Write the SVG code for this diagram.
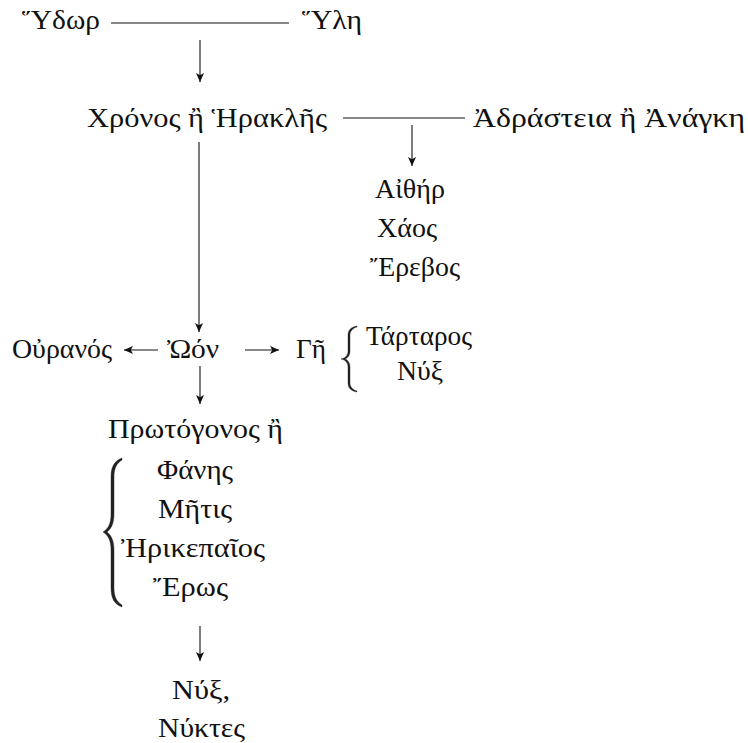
<svg xmlns="http://www.w3.org/2000/svg" width="748" height="743" viewBox="0 0 748 743">
<style>
text{font-family:"Liberation Serif","DejaVu Serif",serif;font-size:27px;fill:#111}
.ln{stroke:#111;stroke-width:1.1;fill:none}
.br{stroke:#222;stroke-width:0.4;fill:#222}
</style>
<defs>
<marker id="ah" viewBox="0 0 10 10" refX="10" refY="5" markerWidth="9" markerHeight="9" markerUnits="userSpaceOnUse" orient="auto">
<path d="M0,0.5 L10,5 L0,9.5 L2.5,5 z" fill="#111"/>
</marker>
</defs>
<g id="connectors">
<line class="ln" x1="111" y1="23" x2="289" y2="23"/>
<line class="ln" x1="200" y1="40" x2="200" y2="82" marker-end="url(#ah)"/>
<line class="ln" x1="343" y1="118" x2="465" y2="118"/>
<line class="ln" x1="412" y1="125" x2="412" y2="166" marker-end="url(#ah)"/>
<line class="ln" x1="199" y1="142" x2="199" y2="332" marker-end="url(#ah)"/>
<line class="ln" x1="158" y1="350" x2="124" y2="350" marker-end="url(#ah)"/>
<line class="ln" x1="245" y1="350" x2="279" y2="350" marker-end="url(#ah)"/>
<line class="ln" x1="200" y1="366" x2="200" y2="404" marker-end="url(#ah)"/>
<line class="ln" x1="200" y1="626" x2="200" y2="661" marker-end="url(#ah)"/>
</g>
<g id="n-hydor"><text x="22" y="29" textLength="78" lengthAdjust="spacingAndGlyphs">Ὕδωρ</text></g>
<g id="n-hyle"><text x="302" y="29" textLength="60" lengthAdjust="spacingAndGlyphs">Ὕλη</text></g>
<g id="n-chronos"><text x="87" y="127" textLength="240" lengthAdjust="spacingAndGlyphs">Χρόνος ἢ Ἡρακλῆς</text></g>
<g id="n-adrasteia"><text x="473" y="127" textLength="272" lengthAdjust="spacingAndGlyphs">Ἀδράστεια ἢ Ἀνάγκη</text></g>
<g id="n-aither">
<text x="375" y="198" textLength="70" lengthAdjust="spacingAndGlyphs">Αἰθήρ</text>
<text x="377" y="237" textLength="60" lengthAdjust="spacingAndGlyphs">Χάος</text>
<text x="370" y="276" textLength="90" lengthAdjust="spacingAndGlyphs">Ἔρεβος</text>
</g>
<g id="n-ouranos"><text x="12" y="358" textLength="100" lengthAdjust="spacingAndGlyphs">Οὐρανός</text></g>
<g id="n-oon"><text x="167" y="358" textLength="52" lengthAdjust="spacingAndGlyphs">Ὠόν</text></g>
<g id="n-ge">
<text x="296" y="358" textLength="30" lengthAdjust="spacingAndGlyphs">Γῆ</text>
<path class="br" d="M357,326 C351,327 348,330 348,335 L348,351 C348,355 346,358 341,359 C346,360 348,363 348,367 L348,383 C348,388 351,391 357,392 L357,391 C353,390 350,387 350,383 L350,367 C350,363 348,360 345,359 C348,358 350,355 350,351 L350,335 C350,331 353,328 357,327 z"/>
<text x="366" y="345" textLength="106" lengthAdjust="spacingAndGlyphs">Τάρταρος</text>
<text x="397" y="380" textLength="46" lengthAdjust="spacingAndGlyphs">Νύξ</text>
</g>
<g id="n-protogonos">
<text x="108" y="438" textLength="175" lengthAdjust="spacingAndGlyphs">Πρωτόγονος ἢ</text>
<path class="br" d="M122,458 C114,461 111,467 111,477 L111,514 C111,524 108,529 103,532 C108,535 111,540 111,550 L111,588 C111,598 114,604 122,607 L122,605 C117,602 114,597 114,588 L114,550 C114,540 111,535 107,532 C111,529 114,524 114,514 L114,477 C114,468 117,463 122,460 z"/>
<text x="157" y="479" textLength="76" lengthAdjust="spacingAndGlyphs">Φάνης</text>
<text x="158" y="518" textLength="74" lengthAdjust="spacingAndGlyphs">Μῆτις</text>
<text x="121" y="557" textLength="144" lengthAdjust="spacingAndGlyphs">Ἠρικεπαῖος</text>
<text x="153" y="596" textLength="75" lengthAdjust="spacingAndGlyphs">Ἔρως</text>
</g>
<g id="n-nyx">
<text x="172" y="699" textLength="58" lengthAdjust="spacingAndGlyphs">Νύξ,</text>
<text x="158" y="737" textLength="87" lengthAdjust="spacingAndGlyphs">Νύκτες</text>
</g>
</svg>
